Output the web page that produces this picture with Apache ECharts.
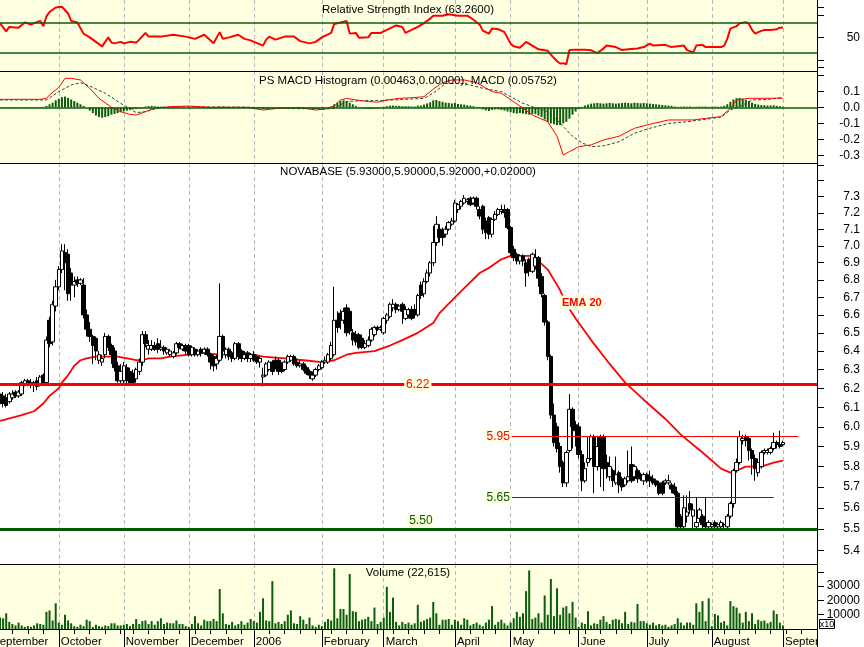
<!DOCTYPE html>
<html>
<head>
<meta charset="utf-8">
<script src="https://cdn.jsdelivr.net/npm/echarts@6.0.0/dist/echarts.min.js"></script>
<style>
html,body{margin:0;padding:0;background:#ffffff;}
#chart{width:864px;height:647px;}
</style>
</head>
<body>
<div id="chart"></div>
<script>
// ---------------- calendar ----------------
const firstTradingDay = [2005, 8, 6];          // 6 Sep 2005 (month is 0-based)
const tradingDays = 254;                        // last bar: 1 Sep 2006
const emptySlots = 11;                          // blank room after the last bar
const holidays = ['2005-11-01','2005-12-26','2006-04-14','2006-04-17','2006-05-01'];
const monthNames = ['January','February','March','April','May','June','July','August','September','October','November','December'];
const yearLabelMonth = '2006-01';               // January shown as "2006"

// ---------------- price (open, high, low, close) ----------------
const candles = [
[6.17,6.18,6.11,6.12],[6.16,6.18,6.10,6.12],[6.15,6.17,6.10,6.11],[6.13,6.18,6.12,6.17],[6.15,6.19,6.14,6.17],
[6.18,6.19,6.15,6.16],[6.16,6.19,6.15,6.18],[6.17,6.24,6.16,6.23],[6.22,6.25,6.21,6.24],[6.24,6.25,6.21,6.22],
[6.22,6.25,6.20,6.23],[6.23,6.24,6.18,6.22],[6.24,6.26,6.19,6.21],[6.22,6.27,6.21,6.26],[6.27,6.28,6.22,6.23],
[6.23,6.48,6.22,6.46],[6.57,6.59,6.42,6.44],[6.45,6.68,6.43,6.66],[6.65,6.80,6.62,6.76],[6.76,6.88,6.74,6.86],
[6.86,7.01,6.84,6.97],[6.96,7.01,6.74,6.90],[6.95,6.98,6.68,6.72],[6.84,6.87,6.68,6.77],[6.77,6.82,6.70,6.79],
[6.80,6.82,6.76,6.78],[6.78,6.81,6.77,6.80],[6.77,6.81,6.58,6.60],[6.60,6.63,6.48,6.52],[6.52,6.56,6.45,6.48],
[6.48,6.49,6.33,6.43],[6.47,6.48,6.35,6.40],[6.35,6.40,6.33,6.38],[6.34,6.38,6.32,6.36],[6.38,6.50,6.36,6.48],
[6.48,6.49,6.40,6.42],[6.43,6.44,6.33,6.38],[6.40,6.42,6.29,6.31],[6.32,6.34,6.23,6.24],[6.24,6.33,6.22,6.29],
[6.24,6.34,6.22,6.32],[6.31,6.33,6.22,6.24],[6.29,6.31,6.22,6.23],[6.28,6.30,6.22,6.23],[6.25,6.31,6.23,6.30],
[6.29,6.36,6.27,6.34],[6.34,6.51,6.32,6.49],[6.49,6.51,6.42,6.44],[6.41,6.46,6.38,6.43],[6.41,6.46,6.40,6.43],
[6.43,6.45,6.40,6.41],[6.44,6.47,6.39,6.41],[6.41,6.46,6.40,6.42],[6.42,6.43,6.38,6.40],[6.39,6.42,6.38,6.41],
[6.38,6.41,6.37,6.40],[6.37,6.40,6.36,6.39],[6.39,6.45,6.38,6.44],[6.44,6.45,6.41,6.42],[6.41,6.44,6.40,6.43],
[6.43,6.44,6.38,6.40],[6.43,6.44,6.37,6.38],[6.38,6.43,6.37,6.42],[6.41,6.42,6.37,6.38],[6.38,6.41,6.37,6.40],
[6.41,6.42,6.37,6.39],[6.39,6.42,6.38,6.41],[6.41,6.42,6.37,6.38],[6.38,6.39,6.30,6.34],[6.37,6.38,6.29,6.32],
[6.33,6.38,6.30,6.36],[6.35,6.78,6.34,6.48],[6.48,6.49,6.36,6.40],[6.38,6.42,6.36,6.41],[6.41,6.42,6.35,6.37],
[6.39,6.40,6.34,6.36],[6.36,6.45,6.35,6.44],[6.44,6.45,6.35,6.37],[6.40,6.41,6.34,6.36],[6.36,6.40,6.35,6.38],
[6.39,6.40,6.34,6.36],[6.36,6.39,6.34,6.38],[6.38,6.40,6.34,6.35],[6.37,6.38,6.33,6.34],[6.34,6.37,6.31,6.36],
[6.26,6.31,6.21,6.27],[6.27,6.34,6.26,6.33],[6.30,6.35,6.29,6.34],[6.34,6.35,6.27,6.29],[6.35,6.37,6.30,6.32],
[6.35,6.36,6.27,6.29],[6.33,6.34,6.28,6.29],[6.30,6.35,6.29,6.34],[6.34,6.38,6.33,6.37],[6.35,6.38,6.34,6.37],
[6.37,6.38,6.32,6.33],[6.34,6.36,6.31,6.32],[6.32,6.35,6.31,6.33],[6.33,6.34,6.29,6.30],[6.31,6.32,6.27,6.28],
[6.29,6.30,6.25,6.27],[6.25,6.29,6.24,6.27],[6.27,6.31,6.26,6.30],[6.30,6.33,6.29,6.32],[6.31,6.35,6.30,6.34],
[6.34,6.37,6.33,6.35],[6.34,6.39,6.33,6.38],[6.36,6.45,6.35,6.43],[6.38,6.76,6.37,6.57],[6.57,6.62,6.50,6.53],
[6.61,6.63,6.52,6.57],[6.57,6.64,6.55,6.62],[6.64,6.66,6.48,6.50],[6.62,6.64,6.49,6.51],[6.50,6.52,6.43,6.46],
[6.49,6.51,6.43,6.45],[6.49,6.50,6.41,6.42],[6.47,6.49,6.41,6.42],[6.42,6.46,6.41,6.44],[6.43,6.48,6.42,6.46],
[6.46,6.53,6.45,6.52],[6.49,6.54,6.48,6.53],[6.53,6.54,6.51,6.52],[6.52,6.54,6.51,6.53],[6.50,6.59,6.49,6.58],
[6.57,6.61,6.55,6.60],[6.59,6.67,6.58,6.66],[6.64,6.69,6.62,6.66],[6.66,6.67,6.61,6.63],[6.63,6.66,6.62,6.65],
[6.66,6.67,6.55,6.62],[6.58,6.65,6.57,6.63],[6.60,6.64,6.58,6.63],[6.63,6.65,6.57,6.58],[6.63,6.66,6.58,6.60],
[6.60,6.72,6.59,6.71],[6.77,6.79,6.69,6.71],[6.72,6.81,6.70,6.79],[6.79,6.86,6.78,6.84],[6.84,6.91,6.82,6.90],
[6.90,7.12,6.88,7.02],[7.02,7.18,7.00,7.13],[7.10,7.13,7.02,7.05],[7.09,7.11,7.00,7.05],[7.07,7.12,7.05,7.10],
[7.10,7.15,7.09,7.14],[7.13,7.17,7.12,7.15],[7.15,7.28,7.14,7.26],[7.22,7.26,7.20,7.25],[7.24,7.28,7.22,7.27],
[7.26,7.31,7.25,7.29],[7.27,7.29,7.25,7.28],[7.29,7.30,7.24,7.25],[7.26,7.30,7.25,7.29],[7.29,7.30,7.22,7.24],
[7.22,7.24,7.16,7.18],[7.24,7.25,7.07,7.10],[7.15,7.17,7.04,7.08],[7.17,7.18,7.04,7.07],[7.07,7.17,7.05,7.16],
[7.16,7.21,7.15,7.19],[7.19,7.23,7.18,7.22],[7.21,7.25,7.19,7.22],[7.22,7.25,7.17,7.20],[7.22,7.23,7.10,7.11],
[7.11,7.12,6.94,6.96],[6.98,7.00,6.91,6.93],[6.95,6.96,6.89,6.91],[6.91,6.95,6.89,6.94],[6.94,6.95,6.88,6.91],
[6.90,6.92,6.76,6.84],[6.92,6.93,6.82,6.85],[6.85,6.96,6.84,6.95],[6.88,6.98,6.86,6.93],[6.93,6.94,6.76,6.81],
[6.82,6.84,6.70,6.72],[6.71,6.72,6.54,6.56],[6.56,6.57,6.35,6.37],[6.37,6.38,6.04,6.06],[6.06,6.12,5.90,5.92],
[6.00,6.02,5.87,5.89],[5.90,5.92,5.77,5.80],[5.82,5.83,5.70,5.72],[5.72,5.88,5.70,5.87],[5.88,6.17,5.87,6.09],
[6.09,6.10,5.89,6.00],[6.01,6.03,5.90,5.98],[6.00,6.02,5.84,5.86],[5.86,5.88,5.68,5.73],[5.73,5.82,5.72,5.79],
[5.82,5.95,5.80,5.84],[5.84,5.96,5.83,5.95],[5.95,5.96,5.67,5.80],[5.80,5.95,5.78,5.90],[5.95,5.96,5.70,5.80],
[5.95,5.96,5.68,5.79],[5.82,5.86,5.74,5.79],[5.75,5.85,5.73,5.80],[5.78,5.79,5.70,5.73],[5.72,5.85,5.71,5.76],
[5.77,5.78,5.67,5.71],[5.74,5.75,5.68,5.70],[5.71,5.75,5.70,5.74],[5.73,5.88,5.72,5.75],[5.81,5.90,5.72,5.73],
[5.75,5.81,5.73,5.80],[5.78,5.79,5.72,5.74],[5.76,5.77,5.73,5.74],[5.73,5.77,5.71,5.76],[5.76,5.77,5.72,5.73],
[5.75,5.78,5.70,5.73],[5.74,5.76,5.71,5.72],[5.73,5.74,5.70,5.71],[5.72,5.73,5.66,5.67],[5.72,5.73,5.66,5.67],
[5.72,5.74,5.71,5.73],[5.72,5.76,5.71,5.73],[5.71,5.72,5.67,5.69],[5.70,5.72,5.66,5.67],[5.67,5.68,5.50,5.51],
[5.56,5.57,5.50,5.51],[5.51,5.66,5.50,5.60],[5.56,5.66,5.53,5.58],[5.62,5.68,5.57,5.59],[5.56,5.62,5.50,5.59],
[5.51,5.65,5.50,5.53],[5.55,5.60,5.53,5.59],[5.56,5.57,5.50,5.52],[5.53,5.65,5.50,5.51],[5.51,5.54,5.50,5.53],
[5.51,5.53,5.50,5.52],[5.53,5.54,5.50,5.51],[5.51,5.53,5.50,5.52],[5.51,5.54,5.50,5.53],[5.52,5.53,5.50,5.52],
[5.51,5.57,5.50,5.56],[5.56,5.63,5.55,5.62],[5.62,5.79,5.60,5.78],[5.78,5.84,5.77,5.82],[5.82,5.98,5.81,5.95],
[5.93,5.96,5.91,5.94],[5.95,5.96,5.90,5.93],[5.94,5.95,5.83,5.88],[5.88,5.89,5.76,5.84],[5.84,5.86,5.73,5.79],
[5.77,5.84,5.75,5.82],[5.80,5.88,5.79,5.87],[5.87,5.89,5.86,5.88],[5.87,5.89,5.86,5.88],[5.87,5.90,5.86,5.89],
[5.89,5.97,5.88,5.92],[5.92,5.93,5.89,5.91],[5.91,5.98,5.89,5.90],[5.91,5.93,5.90,5.92]
];

// 20-day EMA: [trading day index, value]
const emaPoints = [
[0,6.03],[7,6.06],[11,6.08],[14,6.12],[16,6.16],[19,6.20],[20,6.23],[22,6.27],[24,6.32],[26,6.35],[28,6.36],
[31,6.37],[38,6.37],[41,6.36],[44,6.35],[46,6.35],[48,6.36],[52,6.36],[55,6.37],[61,6.38],[65,6.39],[71,6.38],
[82,6.38],[85,6.37],[92,6.36],[98,6.35],[104,6.34],[108,6.35],[112,6.38],[115,6.39],[121,6.40],[126,6.43],
[130,6.46],[135,6.50],[140,6.555],[142,6.61],[147,6.70],[151,6.77],[155,6.84],[158,6.87],[162,6.92],[165,6.94],
[172,6.94],[174,6.91],[177,6.86],[179,6.80],[181,6.74],[183,6.66],[186,6.58],[191,6.46],[197,6.33],[202,6.23],
[208,6.14],[215,6.04],[220,5.96],[227,5.87],[233,5.79],[236,5.77],[238,5.78],[241,5.80],[246,5.80],[250,5.82],[253,5.83]
];

// ---------------- RSI: [trading day index, value] ----------------
const rsiPoints = [
[0,68.7],[2,58],[3,64],[6,63],[8,70],[10,67],[11,69],[13,72],[14,65],[15,78],[16,84],[18,90],[20,91],[22,82],[23,72],
[25,70],[27,55],[29,50],[31,44],[33,38],[35,50],[36,43],[37,42],[39,44],[40,42],[42,44],[44,43],[45,47],[47,56],
[48,51],[52,51],[56,53.5],[60,51],[63,48],[66,53.5],[69,42],[71,57],[72,48],[74,50],[77,53.5],[79,48],[81,46],
[85,39],[86,47],[87,51],[89,47],[92,51],[95,51],[97,45],[100,42],[102,44],[104,50],[107,56],[108,68],[110,70],
[112,72],[113,55],[115,56],[116,49.6],[119,50],[120,56],[123,56],[125,60],[128,66],[130,64],[131,56],[133,60],
[135,64],[137,69],[139,75],[140,79],[143,79],[145,81],[148,79],[151,79],[153,73.6],[155,67],[156,59],[158,55],
[159,62],[161,61],[163,57],[165,41.6],[166,38],[168,36],[170,44],[172,39],[174,34],[177,32],[178,27],[180,18],
[181,15],[182,15.5],[183,14],[184,33],[186,33.6],[189,33.6],[191,32.7],[193,29],[195,35],[196,39],[199,37],
[201,33],[203,34],[206,35],[208,37],[210,41.6],[211,39],[215,40],[217,37],[221,39],[222,33],[224,30],[225,39],
[227,40],[228,37],[231,37],[233,37],[234,39],[235,48],[236,61.6],[238,65],[239,69],[241,70.4],[242,68],[243,60],
[244,55],[245,57],[247,60],[249,60],[251,61],[252,63],[253,63.26]
];
const rsiLevels = [70, 30];

// ---------------- MACD ----------------
const macdPoints = [
[0,0.051],[13,0.051],[15,0.057],[16,0.078],[19,0.126],[21,0.182],[23,0.182],[26,0.172],[29,0.12],[32,0.057],
[36,0.001],[39,-0.026],[42,-0.043],[44,-0.047],[47,-0.026],[50,-0.005],[55,0.005],[61,0.009],[68,0.001],[80,0.001],
[85,-0.016],[90,-0.005],[97,0.0],[102,-0.016],[105,-0.01],[108,0.009],[110,0.047],[112,0.057],[115,0.047],
[119,0.037],[122,0.033],[125,0.047],[129,0.057],[133,0.061],[137,0.067],[140,0.115],[143,0.155],[146,0.172],
[150,0.172],[154,0.155],[159,0.099],[162,0.089],[166,0.036],[169,-0.005],[172,-0.047],[177,-0.089],[180,-0.18],
[182,-0.297],[184,-0.276],[187,-0.245],[191,-0.234],[195,-0.203],[200,-0.18],[205,-0.13],[210,-0.105],
[216,-0.078],[224,-0.078],[228,-0.068],[233,-0.057],[236,-0.005],[238,0.047],[242,0.057],[253,0.058]
];
const signalPoints = [
[0,0.047],[15,0.047],[19,0.099],[23,0.141],[26,0.155],[29,0.134],[34,0.089],[39,0.026],[44,-0.032],[47,-0.026],
[52,0.001],[60,0.004],[80,0.002],[90,-0.006],[100,-0.008],[105,-0.01],[108,-0.005],[112,0.037],[117,0.043],
[123,0.043],[130,0.05],[137,0.057],[140,0.09],[144,0.15],[150,0.15],[156,0.12],[162,0.099],[169,0.026],[172,0.005],
[177,-0.026],[180,-0.078],[185,-0.18],[188,-0.22],[191,-0.245],[195,-0.24],[200,-0.214],[205,-0.161],[210,-0.13],
[216,-0.1],[222,-0.089],[228,-0.074],[233,-0.06],[236,-0.016],[240,0.015],[243,0.047],[248,0.05],[253,0.063]
];
const macdHist = [
-0.003,-0.003,-0.003,-0.003,-0.003,-0.003,-0.003,-0.003,-0.003,-0.003,-0.003,-0.003,-0.003,-0.003,
0.004,0.01,0.02,0.03,0.045,0.055,0.065,0.068,0.06,0.05,0.04,0.03,0.02,0.01,0.0,-0.02,-0.035,-0.05,-0.06,-0.064,
-0.06,-0.055,-0.045,-0.04,-0.035,-0.03,-0.025,-0.02,-0.015,-0.012,-0.01,-0.006,0.002,0.006,0.008,0.01,0.008,
0.006,0.005,0.004,0.003,0.004,0.003,0.004,0.003,0.002,0.001,0.002,-0.002,0.002,-0.002,0.002,0.002,-0.002,-0.004,
-0.005,-0.002,0.006,0.005,0.004,0.002,0.002,0.004,0.002,-0.002,-0.002,-0.003,-0.003,-0.004,-0.005,-0.004,-0.008,
-0.006,-0.004,-0.005,-0.004,-0.006,-0.006,-0.004,-0.002,-0.002,-0.004,-0.005,-0.005,-0.007,-0.008,-0.009,-0.009,
-0.008,-0.006,-0.005,-0.003,0.0,0.006,0.02,0.03,0.04,0.045,0.04,0.03,0.02,0.01,0.003,-0.004,-0.008,-0.01,-0.008,
-0.006,-0.004,-0.002,0.004,0.008,0.012,0.012,0.01,0.01,0.008,0.008,0.008,0.006,0.006,0.012,0.012,0.018,0.025,
0.032,0.045,0.047,0.04,0.035,0.03,0.028,0.025,0.028,0.022,0.02,0.018,0.014,0.012,0.008,0.004,-0.004,-0.012,
-0.018,-0.022,-0.015,-0.012,-0.012,-0.015,-0.02,-0.025,-0.03,-0.035,-0.038,-0.035,-0.038,-0.042,-0.045,-0.04,
-0.042,-0.05,-0.06,-0.075,-0.09,-0.1,-0.105,-0.11,-0.11,-0.1,-0.09,-0.07,-0.045,-0.025,-0.01,0.004,0.012,0.018,
0.024,0.026,0.028,0.026,0.024,0.026,0.028,0.026,0.024,0.026,0.028,0.03,0.028,0.026,0.03,0.028,0.026,0.028,0.026,
0.024,0.022,0.02,0.018,0.016,0.014,0.012,0.01,0.006,0.004,0.005,0.006,0.005,0.006,0.004,0.005,0.006,0.005,0.006,
0.004,0.005,0.006,0.005,0.006,0.01,0.02,0.035,0.05,0.058,0.06,0.055,0.048,0.04,0.03,0.022,0.018,0.015,0.014,
0.012,0.012,0.014,0.01,0.008,0.005
];

// ---------------- volume ----------------
const volumes = [
8000,7500,11000,5000,3500,2500,4500,2500,1500,2000,1500,2500,4000,3500,3000,12000,13000,6000,18000,4500,
3000,10000,6000,4000,2000,1500,3000,2000,6500,5500,1500,3000,2000,1500,2500,2000,4000,4000,2500,2500,
3000,3500,2000,3500,7000,3500,5500,6000,3500,5500,3000,5500,7500,3500,4500,4000,4000,6000,3500,3500,
2000,1500,3500,9000,4000,2500,6500,5500,5500,7000,5500,28000,11000,3500,3000,5000,2500,3500,5500,3000,
4500,7000,5500,4500,12000,21500,6000,5500,33500,4000,5000,3500,5500,10000,13000,4000,3500,9000,6500,3500,
8000,2500,1500,3000,2000,5000,7000,6000,42500,7500,14000,14000,10000,38500,12500,12000,5500,6500,7000,8500,
5500,15000,3500,5000,8000,29500,12000,22000,5000,2500,5000,3500,4500,3000,4000,17000,5000,6000,7000,8000,
19000,11000,3000,6500,6500,7000,3000,6500,5500,3000,7500,6500,2500,3500,4500,3000,2000,4500,6500,16000,
3000,5000,6500,4000,2500,4500,7500,12000,8500,11000,26500,41000,7000,8000,11000,4500,23500,10000,35000,9000,
28500,10000,15000,16000,11000,19000,8000,1500,4500,3500,12500,2500,4000,3500,6500,9000,5000,3500,6500,7000,
6500,4000,12000,3500,5000,4500,17500,5500,5500,4000,3000,4500,2500,3500,2500,3000,1500,2500,3500,7500,
4500,2500,4500,4500,3000,18000,12000,19500,5500,21500,2000,10500,9500,4500,5500,2500,19500,16000,15000,11000,
4500,12000,5500,11000,3500,6500,5500,6000,4000,5000,13000,10500,4500,2500
];

// ---------------- axes ----------------
const rsiRange = [5, 100];
const rsiTicks = [10, 20, 50, 80, 90];
const rsiTickLabels = [50];
const macdRange = [-0.347, 0.228];
const macdTicks = [-0.3, -0.2, -0.1, 0, 0.1, 0.2];
const macdTickLabels = [-0.3, -0.2, -0.1, 0, 0.1];
const priceRange = [5.338, 7.512];
const priceTicks = [5.4,5.5,5.6,5.7,5.8,5.9,6.0,6.1,6.2,6.3,6.4,6.5,6.6,6.7,6.8,6.9,7.0,7.1,7.2,7.3,7.4,7.5];
const priceTickLabels = [5.4,5.5,5.6,5.7,5.8,5.9,6.0,6.1,6.2,6.3,6.4,6.5,6.6,6.7,6.8,6.9,7.0,7.1,7.2,7.3];
const volumeRange = [0, 45500];
const volumeTicks = [10000, 20000, 30000, 40000];
const volumeTickLabels = [10000, 20000, 30000];

// ---------------- support / resistance lines ----------------
const fullLevels = [ {value: 6.22, label: '6.22', labelDay: 135, color: '#ff0000', width: 3},
                     {value: 5.50, label: '5.50', labelDay: 136, color: '#005a00', width: 3} ];
const segLevels  = [ {value: 5.95, label: '5.95', from: 165, to: 258, labelDay: 161, color: '#ff0000'},
                     {value: 5.65, label: '5.65', from: 165, to: 250, labelDay: 161, color: '#005a00'} ];
const emaLabel = {text: 'EMA 20', day: 188, value: 6.67};

// ---------------- titles ----------------
const titles = {
  rsi: 'Relative Strength Index (63.2600)',
  macd: 'PS MACD Histogram (0.00463,0.00000), MACD (0.05752)',
  price: 'NOVABASE (5.93000,5.90000,5.92000,+0.02000)',
  volume: 'Volume (22,615)'
};

// ================= build =================
function pad2(n){ return (n < 10 ? '0' : '') + n; }
function buildDates(){
  const out = [];
  const d = new Date(Date.UTC(firstTradingDay[0], firstTradingDay[1], firstTradingDay[2]));
  while (out.length < tradingDays + emptySlots) {
    const wd = d.getUTCDay();
    const s = d.getUTCFullYear() + '-' + pad2(d.getUTCMonth()+1) + '-' + pad2(d.getUTCDate());
    if (wd !== 0 && wd !== 6 && holidays.indexOf(s) < 0) out.push(s);
    d.setUTCDate(d.getUTCDate() + 1);
  }
  return out;
}
const dates = buildDates();
function isMonthStart(i){ return i > 0 && dates[i].slice(0,7) !== dates[i-1].slice(0,7); }
function dow(i){ return new Date(dates[i] + 'T00:00:00Z').getUTCDay(); }
function isWeekStart(i){ return i > 0 && dow(i) < dow(i-1) && !isMonthStart(i); }
function monthLabel(v){
  if (v.slice(0,7) === yearLabelMonth) return v.slice(0,4);
  return monthNames[parseInt(v.slice(5,7),10) - 1];
}
const pts = arr => arr.map(p => [dates[p[0]], p[1]]);

const FONT = '"Liberation Sans", Arial, sans-serif';
const PANEL_BG = '#FFFFE1';
const LEFT = 0, PLOT_W = 817;
const grids = [
  {top: 0,   height: 71},
  {top: 71,  height: 92},
  {top: 163, height: 401},
  {top: 564, height: 65}
];

function xAxisFor(gi, extra){
  return Object.assign({
    type: 'category', gridIndex: gi, data: dates, boundaryGap: false, position: 'bottom',
    axisLine: {show: true, onZero: false, lineStyle: {color: '#000', width: 1}},
    axisTick: {show: false},
    axisLabel: {show: false},
    splitLine: {show: true, interval: (i) => isMonthStart(i),
                lineStyle: {color: '#b8b8b8', width: 1, type: [4, 3]}}
  }, extra || {});
}
function yAxisFor(gi, range, ticks, labels, fmt, type){
  return {
    type: type || 'value', gridIndex: gi, position: 'right', min: range[0], max: range[1],
    axisLine: {show: true, onZero: false, lineStyle: {color: '#000', width: 1}},
    axisTick: {show: true, length: 7, customValues: ticks, lineStyle: {color: '#000', width: 1}},
    axisLabel: {show: true, customValues: labels, formatter: fmt, color: '#000',
                fontSize: 12, fontFamily: FONT, align: 'right', margin: 43},
    splitLine: {show: false}, minorTick: {show: false}
  };
}

const option = {
  animation: false,
  backgroundColor: '#ffffff',
  grid: grids.map((g, i) => ({
    left: LEFT, width: PLOT_W, top: g.top, height: g.height,
    show: true, backgroundColor: i === 2 ? '#ffffff' : PANEL_BG, borderWidth: 0,
    containLabel: false, outerBoundsMode: 'none'
  })),
  xAxis: [
    xAxisFor(0), xAxisFor(1), xAxisFor(2),
    xAxisFor(3, {
      axisTick: {show: true, interval: (i) => isMonthStart(i), length: 18, lineStyle: {color: '#000', width: 1}},
      axisLabel: {show: true, interval: (i) => isMonthStart(i), formatter: (v) => monthLabel(v),
                  align: 'left', margin: 7, padding: [0, 0, 0, 2], color: '#000', fontSize: 11.5, fontFamily: FONT,
                  hideOverlap: false}
    }),
    xAxisFor(3, {
      axisLine: {show: false},
      axisTick: {show: true, interval: (i) => isWeekStart(i), length: 5, lineStyle: {color: '#000', width: 1}},
      splitLine: {show: false}
    })
  ],
  yAxis: [
    yAxisFor(0, rsiRange, rsiTicks, rsiTickLabels, v => String(v)),
    yAxisFor(1, macdRange, macdTicks, macdTickLabels, v => (Math.abs(v) < 1e-9 ? 0 : v).toFixed(1)),
    yAxisFor(2, priceRange, priceTicks, priceTickLabels, v => Number(v).toFixed(1), 'log'),
    yAxisFor(3, volumeRange, volumeTicks, volumeTickLabels, v => String(Math.round(v)))
  ],
  series: [
    {
      name: 'RSI', type: 'line', xAxisIndex: 0, yAxisIndex: 0, data: pts(rsiPoints),
      showSymbol: false, symbol: 'none', lineStyle: {color: '#ff0000', width: 2}, z: 3,
      markLine: {silent: true, symbol: ['none', 'none'], label: {show: false},
                 lineStyle: {color: '#0b5d0b', width: 1.5, type: 'solid'},
                 data: rsiLevels.map(v => ({yAxis: v}))}
    },
    {
      name: 'Histogram', type: 'bar', xAxisIndex: 1, yAxisIndex: 1, data: macdHist,
      barWidth: 2, itemStyle: {color: '#0b5d0b'}, z: 2,
      markLine: {silent: true, symbol: ['none', 'none'], label: {show: false},
                 lineStyle: {color: '#0b5d0b', width: 1.5, type: 'solid'}, data: [{yAxis: 0}]}
    },
    {
      name: 'Signal', type: 'line', xAxisIndex: 1, yAxisIndex: 1, data: pts(signalPoints),
      showSymbol: false, symbol: 'none', lineStyle: {color: '#1e4a4a', width: 1, type: [3, 2]}, z: 3
    },
    {
      name: 'MACD', type: 'line', xAxisIndex: 1, yAxisIndex: 1, data: pts(macdPoints),
      showSymbol: false, symbol: 'none', lineStyle: {color: '#ff0000', width: 1}, z: 4
    },
    {
      name: 'EMA 20', type: 'line', xAxisIndex: 2, yAxisIndex: 2, data: pts(emaPoints),
      showSymbol: false, symbol: 'none', lineStyle: {color: '#ff0000', width: 1.8}, z: 2
    },
    {
      name: 'NOVABASE', type: 'candlestick', xAxisIndex: 2, yAxisIndex: 2,
      data: candles.map(c => [c[0], c[3], c[2], c[1]]),
      barWidth: 4,
      itemStyle: {color: '#ffffff', color0: '#000000', borderColor: '#000000', borderColor0: '#000000', borderWidth: 1},
      z: 3,
      markLine: {
        silent: true, symbol: ['none', 'none'], label: {show: false}, z: 5,
        data: fullLevels.map(l => ({yAxis: l.value, lineStyle: {color: l.color, width: l.width, type: 'solid'}}))
          .concat(segLevels.map(l => [
            {coord: [dates[l.from], l.value], lineStyle: {color: l.color, width: 1, type: 'solid'}},
            {coord: [dates[l.to], l.value]}
          ]))
      },
      markPoint: {
        silent: true, symbol: 'rect', symbolSize: 1, itemStyle: {color: 'rgba(0,0,0,0)'}, z: 6,
        data: fullLevels.concat(segLevels).map(l => ({
          coord: [dates[l.labelDay], l.value],
          label: {show: true, position: 'inside', formatter: l.label, color: l.color,
                  backgroundColor: PANEL_BG, padding: [1, 2, 0, 2], fontSize: 12, fontFamily: FONT,
                  offset: l.value === 5.50 ? [0, -8] : [0, 0]}
        })).concat([{
          coord: [dates[emaLabel.day], emaLabel.value],
          label: {show: true, position: 'inside', formatter: emaLabel.text, color: '#ff0000', fontWeight: 'bold',
                  backgroundColor: PANEL_BG, padding: [2, 2, 1, 2], fontSize: 11, fontFamily: FONT}
        }])
      }
    },
    {
      name: 'Volume', type: 'bar', xAxisIndex: 3, yAxisIndex: 3, data: volumes,
      barWidth: 2, itemStyle: {color: '#0b5d0b'}, z: 2
    }
  ],
  graphic: [
    {type: 'rect', shape: {x: 0, y: 630, width: PLOT_W, height: 17}, style: {fill: PANEL_BG}, z: -10, silent: true},
    {type: 'text', x: -8, y: 642, z: 20, silent: true,
     style: {text: 'September', font: '11.5px ' + FONT, fill: '#000', align: 'left', verticalAlign: 'middle'}},
    {type: 'rect', shape: {x: 818, y: 630, width: 46, height: 17}, style: {fill: '#ffffff'}, z: 30, silent: true},
    {type: 'line', shape: {x1: 817.5, y1: 629, x2: 817.5, y2: 647}, style: {stroke: '#000', lineWidth: 1}, z: 31, silent: true},
    {type: 'rect', shape: {x: 819.5, y: 619.5, width: 15, height: 9}, style: {fill: '#ffffff', stroke: '#000', lineWidth: 1}, z: 32, silent: true},
    {type: 'text', x: 827, y: 624.5, z: 33, silent: true,
     style: {text: 'x10', font: '9px ' + FONT, fill: '#000', align: 'center', verticalAlign: 'middle'}},
    {type: 'text', x: 408, y: 10, z: 20, silent: true,
     style: {text: titles.rsi, font: '11.5px ' + FONT, fill: '#000', align: 'center', verticalAlign: 'middle'}},
    {type: 'text', x: 408, y: 81, z: 20, silent: true,
     style: {text: titles.macd, font: '11.5px ' + FONT, fill: '#000', align: 'center', verticalAlign: 'middle'}},
    {type: 'text', x: 408, y: 172, z: 20, silent: true,
     style: {text: titles.price, font: '11.5px ' + FONT, fill: '#000', align: 'center', verticalAlign: 'middle'}},
    {type: 'text', x: 408, y: 573, z: 20, silent: true,
     style: {text: titles.volume, font: '11.5px ' + FONT, fill: '#000', align: 'center', verticalAlign: 'middle'}}
  ]
};

const chart = echarts.init(document.getElementById('chart'), null, {renderer: 'canvas', width: 864, height: 647});
chart.setOption(option);
</script>
</body>
</html>
